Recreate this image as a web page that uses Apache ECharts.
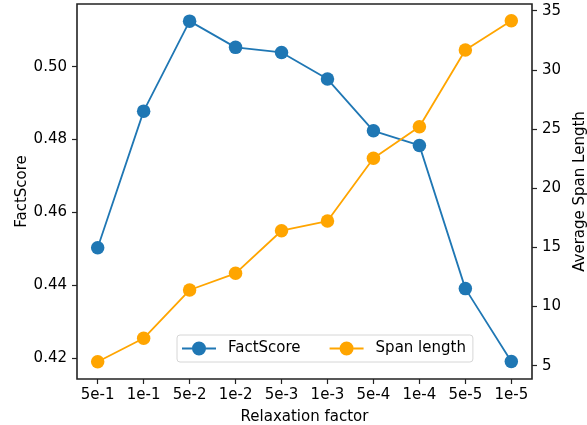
<!DOCTYPE html>
<html>
<head>
<meta charset="utf-8">
<script src="https://cdn.jsdelivr.net/npm/echarts@6/dist/echarts.min.js"></script>
<style>html,body{margin:0;padding:0;background:#fff}#c{width:587px;height:425px}</style>
</head>
<body>
<div id="c"></div>
<script>
var categories = ['5e-1','1e-1','5e-2','1e-2','5e-3','1e-3','5e-4','1e-4','5e-5','1e-5'];
var factScore = [0.4503, 0.4878, 0.5125, 0.5053, 0.5039, 0.4966, 0.4824, 0.4784, 0.4391, 0.4191];
var spanLength = [5.34, 7.32, 11.4, 12.81, 16.41, 17.23, 22.53, 25.2, 31.69, 34.16];
var leftTicks = [0.42, 0.44, 0.46, 0.48, 0.50];
var rightTicks = [5, 10, 15, 20, 25, 30, 35];

var FONT = 'DejaVu Sans';
var idx = categories.map(function(_, i){ return i; });
var icon = 'path://M0,6.1H34V7.9H0Z M24,7A7,7 0 1,1 10,7A7,7 0 1,1 24,7Z';
var tickStyle = {show: true, inside: false, length: 5, lineStyle: {color: '#222', width: 1.2}};
var labelBase = {color: '#000', fontFamily: FONT, fontSize: 15};
var noLine = {show: false, onZero: false};

var chart = echarts.init(document.getElementById('c'), null, {renderer: 'canvas'});
chart.setOption({
  animation: false,
  backgroundColor: '#fff',
  grid: {left: 77, right: 55, top: 4, bottom: 46, containLabel: false, outerBoundsMode: 'none',
         show: true, borderColor: '#222', borderWidth: 1.6, backgroundColor: 'transparent'},
  legend: {
    left: 177, top: 335,
    padding: [6, 7, 6, 5],
    itemWidth: 34, itemHeight: 14, itemGap: 29,
    borderColor: '#d6d6d6', borderWidth: 1, borderRadius: 3,
    backgroundColor: 'rgba(255,255,255,0.8)',
    textStyle: {color: '#000', fontFamily: FONT, fontSize: 15, padding: [0, 0, 0, 7]},
    data: [{name: 'FactScore', icon: icon}, {name: 'Span length', icon: icon}]
  },
  xAxis: {
    type: 'value', min: -0.45, max: 9.45,
    name: 'Relaxation factor', nameLocation: 'middle', nameGap: 31, nameMoveOverlap: false,
    nameTextStyle: labelBase,
    axisLine: noLine,
    axisTick: Object.assign({customValues: idx}, tickStyle),
    axisLabel: Object.assign({customValues: idx, margin: 9, formatter: function(v){ return categories[Math.round(v)]; }}, labelBase),
    splitLine: {show: false}
  },
  yAxis: [{
    type: 'value', min: 0.4143, max: 0.5172, position: 'left',
    name: 'FactScore', nameLocation: 'middle', nameGap: 47, nameRotate: 90, nameMoveOverlap: false,
    nameTextStyle: labelBase,
    axisLine: noLine,
    axisTick: Object.assign({customValues: leftTicks}, tickStyle),
    axisLabel: Object.assign({customValues: leftTicks, margin: 10, formatter: function(v){ return v.toFixed(2); }}, labelBase),
    splitLine: {show: false}
  }, {
    type: 'value', min: 3.88, max: 35.57, position: 'right',
    name: 'Average Span Length', nameLocation: 'middle', nameGap: 41, nameRotate: 90, nameMoveOverlap: false,
    nameTextStyle: labelBase,
    axisLine: noLine,
    axisTick: Object.assign({customValues: rightTicks}, tickStyle),
    axisLabel: Object.assign({customValues: rightTicks, margin: 10}, labelBase),
    splitLine: {show: false}
  }],
  series: [{
    name: 'FactScore', type: 'line', yAxisIndex: 0,
    data: factScore.map(function(v, i){ return [i, v]; }),
    symbol: 'circle', symbolSize: 13.5,
    lineStyle: {color: '#1f77b4', width: 1.8},
    itemStyle: {color: '#1f77b4', borderWidth: 0}
  }, {
    name: 'Span length', type: 'line', yAxisIndex: 1,
    data: spanLength.map(function(v, i){ return [i, v]; }),
    symbol: 'circle', symbolSize: 13.5,
    lineStyle: {color: '#ffa500', width: 1.8},
    itemStyle: {color: '#ffa500', borderWidth: 0}
  }]
});
</script>
</body>
</html>
